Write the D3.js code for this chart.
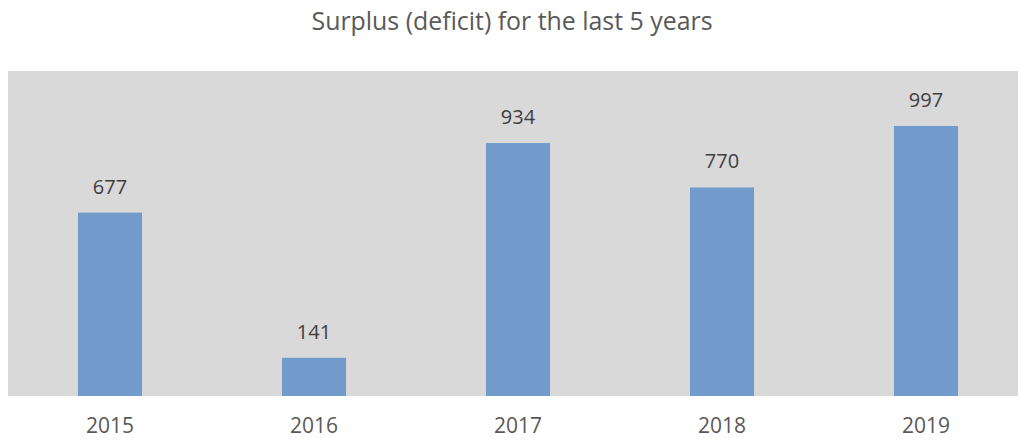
<!DOCTYPE html>
<html>
<head>
<meta charset="utf-8">
<script src="https://cdn.jsdelivr.net/npm/d3@7"></script>
<style>
  body { margin: 0; background: #fff; }
</style>
</head>
<body>
<div id="chart"></div>
<script>
// chart data
var years = ["2015", "2016", "2017", "2018", "2019"];
var surplus = [677, 141, 934, 770, 997];
var chartTitle = "Surplus (deficit) for the last 5 years";

var svgWidth = 1018;
var svgHeight = 438;

// plot area (the grey box)
var plot = { left: 8, right: 1018, top: 71, bottom: 396 };

var svg = d3.select("#chart")
  .append("svg")
  .attr("width", svgWidth)
  .attr("height", svgHeight)
  .style("font-family", "'Open Sans', sans-serif");

svg.append("rect")
  .attr("x", plot.left)
  .attr("y", plot.top)
  .attr("width", plot.right - plot.left)
  .attr("height", plot.bottom - plot.top)
  .attr("fill", "#d9d9d9");

// bands run a little past the right edge, like the original
var x = d3.scaleBand()
  .domain(years)
  .range([plot.left, plot.left + 1020])
  .paddingInner(0.686)
  .paddingOuter(0.343);

var y = d3.scaleLinear()
  .domain([0, 1200])
  .range([plot.bottom, plot.top]);

var data = years.map(function(yr, i) { return { year: yr, value: surplus[i] }; });

svg.selectAll(".bar")
  .data(data)
  .enter()
  .append("rect")
  .attr("class", "bar")
  .attr("x", d => x(d.year))
  .attr("y", d => y(d.value))
  .attr("width", x.bandwidth())
  .attr("height", d => y(0) - y(d.value))
  .attr("fill", "#729bcb");

// value labels
svg.selectAll(".val")
  .data(data)
  .enter()
  .append("text")
  .attr("class", "val")
  .attr("x", d => x(d.year) + x.bandwidth() / 2)
  .attr("y", d => y(d.value) - 19)
  .attr("text-anchor", "middle")
  .attr("font-size", "20px")
  .attr("fill", "#404040")
  .text(d => d.value);

// x axis labels
var xAxis = d3.axisBottom(x).tickSize(0).tickPadding(0);
var axisG = svg.append("g")
  .attr("transform", `translate(0, ${plot.bottom})`)
  .call(xAxis);
axisG.select(".domain").remove();
axisG.selectAll("text")
  .attr("dy", null)
  .attr("y", 37)
  .attr("font-family", "'Open Sans', sans-serif")
  .attr("font-size", "21px")
  .attr("fill", "#595959");

svg.append("text")
  .attr("x", 512)
  .attr("y", 30)
  .attr("text-anchor", "middle")
  .attr("font-size", "25px")
  .attr("textLength", 401)
  .attr("lengthAdjust", "spacingAndGlyphs")
  .attr("fill", "#595959")
  .text(chartTitle);
</script>
</body>
</html>
